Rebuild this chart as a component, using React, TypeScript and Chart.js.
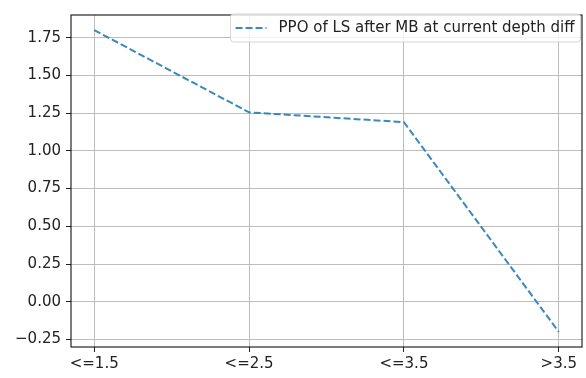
import React, { useEffect, useRef } from "react";
import { Chart, registerables } from "chart.js";

Chart.register(...registerables);

const categories: string[] = ["<=1.5", "<=2.5", "<=3.5", ">3.5"];
const seriesValues: number[] = [1.8, 1.255, 1.19, -0.2];
const seriesLabel = "PPO of LS after MB at current depth diff";
const yTicks: number[] = [-0.25, 0, 0.25, 0.5, 0.75, 1.0, 1.25, 1.5, 1.75];

const FONT = "DejaVu Sans";
const FS = 15;
const LINE_COLOR = "rgba(31,119,180,0.88)";

const framePlugin = {
  id: "frame",
  afterDatasetsDraw(chart: any) {
    const { ctx, chartArea: a } = chart;
    ctx.save();
    ctx.strokeStyle = "#111";
    ctx.lineWidth = 1.1;
    ctx.strokeRect(a.left, a.top, a.right - a.left, a.bottom - a.top);
    ctx.restore();
  },
  afterDraw(chart: any) {
    const { ctx } = chart;
    const ds = chart.data.datasets[0];
    ctx.save();
    ctx.font = `${FS}px "${FONT}"`;
    const label = ds.label as string;
    const tw = ctx.measureText(label).width;
    const right = 580.5;
    const top = 14;
    const h = 28;
    const handleLen = 31;
    const padL = 5;
    const padR = 6;
    const gap = 12;
    const w = padL + handleLen + gap + tw + padR;
    const left = right - w;
    const r = 3;
    ctx.beginPath();
    ctx.moveTo(left + r, top);
    ctx.lineTo(right - r, top);
    ctx.quadraticCurveTo(right, top, right, top + r);
    ctx.lineTo(right, top + h - r);
    ctx.quadraticCurveTo(right, top + h, right - r, top + h);
    ctx.lineTo(left + r, top + h);
    ctx.quadraticCurveTo(left, top + h, left, top + h - r);
    ctx.lineTo(left, top + r);
    ctx.quadraticCurveTo(left, top, left + r, top);
    ctx.closePath();
    ctx.fillStyle = "rgba(255,255,255,0.8)";
    ctx.fill();
    ctx.strokeStyle = "rgba(204,204,204,0.8)";
    ctx.lineWidth = 1;
    ctx.stroke();
    const cy = top + h / 2;
    ctx.beginPath();
    ctx.setLineDash([7, 3]);
    ctx.strokeStyle = LINE_COLOR;
    ctx.lineWidth = 2;
    ctx.moveTo(left + padL, cy);
    ctx.lineTo(left + padL + handleLen, cy);
    ctx.stroke();
    ctx.setLineDash([]);
    ctx.fillStyle = "#222";
    ctx.textBaseline = "middle";
    ctx.textAlign = "left";
    ctx.fillText(label, left + padL + handleLen + gap, cy);
    ctx.restore();
  },
};

function ChartView() {
  const ref = useRef<HTMLCanvasElement | null>(null);
  useEffect(() => {
    document.body.style.margin = "0";
    if (!ref.current) return;
    const chart = new Chart(ref.current, {
      type: "line",
      data: {
        datasets: [
          {
            label: seriesLabel,
            data: seriesValues.map((v, i) => ({ x: i, y: v })),
            borderColor: LINE_COLOR,
            backgroundColor: LINE_COLOR,
            borderWidth: 2,
            borderDash: [7, 3],
            pointRadius: 0,
            tension: 0,
            fill: false,
          },
        ],
      },
      options: {
        animation: false,
        responsive: false,
        devicePixelRatio: 1,
        layout: { padding: { left: 0, right: 4, top: 15, bottom: 0 } },
        plugins: {
          legend: { display: false },
          tooltip: { enabled: false },
        },
        scales: {
          x: {
            type: "linear",
            min: -0.15,
            max: categories.length - 1 + 0.15,
            afterBuildTicks: (scale: any) => {
              scale.ticks = categories.map((_, i) => ({ value: i }));
            },
            afterFit: (scale: any) => {
              scale.height = 31;
            },
            ticks: {
              autoSkip: false,
              maxRotation: 0,
              padding: 3,
              color: "#222",
              font: { family: FONT, size: FS },
              callback: (v: any) => categories[Math.round(Number(v))] ?? "",
            },
            grid: {
              color: "#bdbdbd",
              lineWidth: 1,
              drawTicks: true,
              tickLength: 5,
              tickColor: "#222",
            },
            border: { display: false },
          },
          y: {
            type: "linear",
            min: -0.3,
            max: 1.9,
            afterBuildTicks: (scale: any) => {
              scale.ticks = yTicks.map((v) => ({ value: v }));
            },
            afterFit: (scale: any) => {
              scale.width = 71;
            },
            ticks: {
              autoSkip: false,
              padding: 5,
              color: "#222",
              font: { family: FONT, size: FS },
              callback: (v: any) => {
                const n = Number(v);
                const s = Math.abs(n).toFixed(2);
                return n < 0 ? "\u2212" + s : s;
              },
            },
            grid: {
              color: "#bdbdbd",
              lineWidth: 1,
              drawTicks: true,
              tickLength: 5,
              tickColor: "#222",
            },
            border: { display: false },
          },
        },
      },
      plugins: [framePlugin],
    });
    return () => chart.destroy();
  }, []);
  return <canvas ref={ref} width={586} height={378} style={{ display: "block" }} />;
}

export default function App() {
  return (
    <div style={{ position: "fixed", left: 0, top: 0, width: 586, height: 378, background: "#fff" }}>
      <ChartView />
    </div>
  );
}
